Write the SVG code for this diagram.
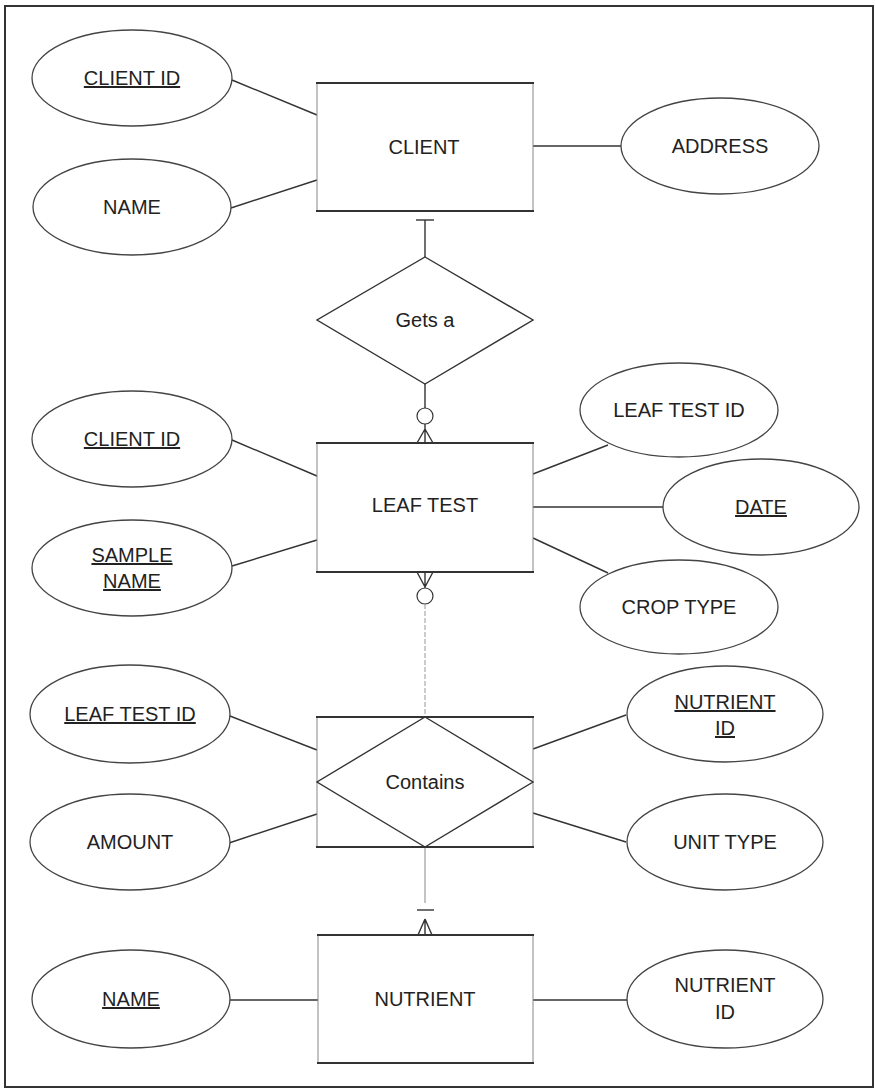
<svg xmlns="http://www.w3.org/2000/svg" width="875" height="1090" viewBox="0 0 875 1090">
  <style>
    text { font-family: "Liberation Sans", Arial, sans-serif; font-size: 20px; fill: #222; text-anchor: middle; }
    .key { text-decoration: underline; }
    .attr { fill: #fff; stroke: #444; stroke-width: 1.3; }
    .side { fill: #fff; stroke: #888; stroke-width: 1; }
    .edge { stroke: #333; stroke-width: 2; fill: none; }
    .rel { fill: #fff; stroke: #333; stroke-width: 1.4; }
    .link { stroke: #333; stroke-width: 1.4; fill: none; }
    .faint { stroke: #888; stroke-width: 1; fill: none; }
    .dash { stroke: #999; stroke-width: 1; fill: none; stroke-dasharray: 5 2; }
  </style>

  <rect x="0" y="0" width="875" height="1090" fill="#fff"/>
  <!-- page frame -->
  <rect x="5" y="6" width="868" height="1081" fill="none" stroke="#333" stroke-width="2"/>

  <!-- connectors -->
  <g id="connectors">
    <!-- CLIENT attributes -->
    <line class="link" x1="232" y1="80" x2="317" y2="115"/>
    <line class="link" x1="231" y1="208" x2="317" y2="180"/>
    <line class="link" x1="533" y1="146" x2="621" y2="146"/>
    <!-- CLIENT to Gets a : one -->
    <line class="link" x1="416" y1="220" x2="434" y2="220"/>
    <line class="link" x1="425" y1="220" x2="425" y2="257"/>
    <!-- Gets a to LEAF TEST : zero or many -->
    <line class="link" x1="425" y1="384" x2="425" y2="408"/>
    <circle cx="425" cy="416" r="8" fill="#fff" stroke="#333" stroke-width="1.2"/>
    <path class="link" d="M425 424 L425 443 M425 429 L417 443 M425 429 L433 443"/>
    <!-- LEAF TEST attributes -->
    <line class="link" x1="232" y1="440" x2="317" y2="476"/>
    <line class="link" x1="232" y1="566" x2="317" y2="540"/>
    <line class="link" x1="533" y1="474" x2="608" y2="445"/>
    <line class="link" x1="533" y1="507" x2="663" y2="507"/>
    <line class="link" x1="533" y1="538" x2="608" y2="573"/>
    <!-- LEAF TEST to Contains : zero or many -->
    <path class="link" d="M425 572 L425 588 M417 572 L425 587 M433 572 L425 587"/>
    <circle cx="425" cy="596" r="8" fill="#fff" stroke="#333" stroke-width="1.2"/>
    <line class="dash" x1="425" y1="604" x2="425" y2="717"/>
    <!-- Contains attributes -->
    <line class="link" x1="230" y1="716" x2="317" y2="750"/>
    <line class="link" x1="229" y1="843" x2="317" y2="814"/>
    <line class="link" x1="533" y1="749" x2="626" y2="715"/>
    <line class="link" x1="533" y1="813" x2="626" y2="842"/>
    <!-- Contains to NUTRIENT : one or many -->
    <line class="faint" x1="425" y1="847" x2="425" y2="903"/>
    <line class="link" x1="417" y1="910" x2="434" y2="910"/>
    <path class="link" d="M425 919 L425 935 M425 919 L418 935 M425 919 L432 935"/>
    <!-- NUTRIENT attributes -->
    <line class="link" x1="230" y1="1000" x2="318" y2="1000"/>
    <line class="link" x1="533" y1="1000" x2="627" y2="1000"/>
  </g>

  <!-- CLIENT entity -->
  <g id="client">
    <rect class="side" x="317" y="83" width="216" height="128"/>
    <path class="edge" d="M316 83 H534 M316 211 H534"/>
    <text x="424" y="154">CLIENT</text>
  </g>
  <g id="client-id">
    <ellipse class="attr" cx="132" cy="78" rx="100" ry="48"/>
    <text class="key" x="132" y="85">CLIENT ID</text>
  </g>
  <g id="client-name">
    <ellipse class="attr" cx="132" cy="207" rx="99" ry="48"/>
    <text x="132" y="214">NAME</text>
  </g>
  <g id="client-address">
    <ellipse class="attr" cx="720" cy="146" rx="99" ry="48"/>
    <text x="720" y="153">ADDRESS</text>
  </g>

  <!-- Gets a relationship -->
  <g id="gets-a">
    <polygon class="rel" points="425,257 533,320 425,384 317,320"/>
    <text x="425" y="327">Gets a</text>
  </g>

  <!-- LEAF TEST entity -->
  <g id="leaf-test">
    <rect class="side" x="317" y="443" width="216" height="129"/>
    <path class="edge" d="M316 443 H534 M316 572 H534"/>
    <text x="425" y="512">LEAF TEST</text>
  </g>
  <g id="leaf-client-id">
    <ellipse class="attr" cx="132" cy="439" rx="100" ry="48"/>
    <text class="key" x="132" y="446">CLIENT ID</text>
  </g>
  <g id="leaf-sample-name">
    <ellipse class="attr" cx="132" cy="568" rx="100" ry="48"/>
    <text class="key" x="132" y="562">SAMPLE</text>
    <text class="key" x="132" y="588">NAME</text>
  </g>
  <g id="leaf-test-id">
    <ellipse class="attr" cx="679" cy="410" rx="99" ry="47"/>
    <text x="679" y="417">LEAF TEST ID</text>
  </g>
  <g id="leaf-date">
    <ellipse class="attr" cx="761" cy="507" rx="98" ry="48"/>
    <text class="key" x="761" y="514">DATE</text>
  </g>
  <g id="leaf-crop-type">
    <ellipse class="attr" cx="679" cy="607" rx="99" ry="47"/>
    <text x="679" y="614">CROP TYPE</text>
  </g>

  <!-- Contains associative entity -->
  <g id="contains">
    <rect class="side" x="317" y="717" width="216" height="130"/>
    <path class="edge" d="M316 717 H534 M316 847 H534"/>
    <polygon class="rel" fill="none" points="425,717 533,782 425,847 317,782" style="fill:none"/>
    <text x="425" y="789">Contains</text>
  </g>
  <g id="contains-leaf-test-id">
    <ellipse class="attr" cx="130" cy="714" rx="100" ry="49"/>
    <text class="key" x="130" y="721">LEAF TEST ID</text>
  </g>
  <g id="contains-amount">
    <ellipse class="attr" cx="130" cy="842" rx="100" ry="48"/>
    <text x="130" y="849">AMOUNT</text>
  </g>
  <g id="contains-nutrient-id">
    <ellipse class="attr" cx="725" cy="714" rx="98" ry="48"/>
    <text class="key" x="725" y="709">NUTRIENT</text>
    <text class="key" x="725" y="735">ID</text>
  </g>
  <g id="contains-unit-type">
    <ellipse class="attr" cx="725" cy="842" rx="98" ry="48"/>
    <text x="725" y="849">UNIT TYPE</text>
  </g>

  <!-- NUTRIENT entity -->
  <g id="nutrient">
    <rect class="side" x="318" y="935" width="215" height="128"/>
    <path class="edge" d="M317 935 H534 M317 1063 H534"/>
    <text x="425" y="1006">NUTRIENT</text>
  </g>
  <g id="nutrient-name">
    <ellipse class="attr" cx="131" cy="999" rx="99" ry="49"/>
    <text class="key" x="131" y="1006">NAME</text>
  </g>
  <g id="nutrient-id">
    <ellipse class="attr" cx="725" cy="999" rx="98" ry="49"/>
    <text x="725" y="992">NUTRIENT</text>
    <text x="725" y="1019">ID</text>
  </g>
</svg>
